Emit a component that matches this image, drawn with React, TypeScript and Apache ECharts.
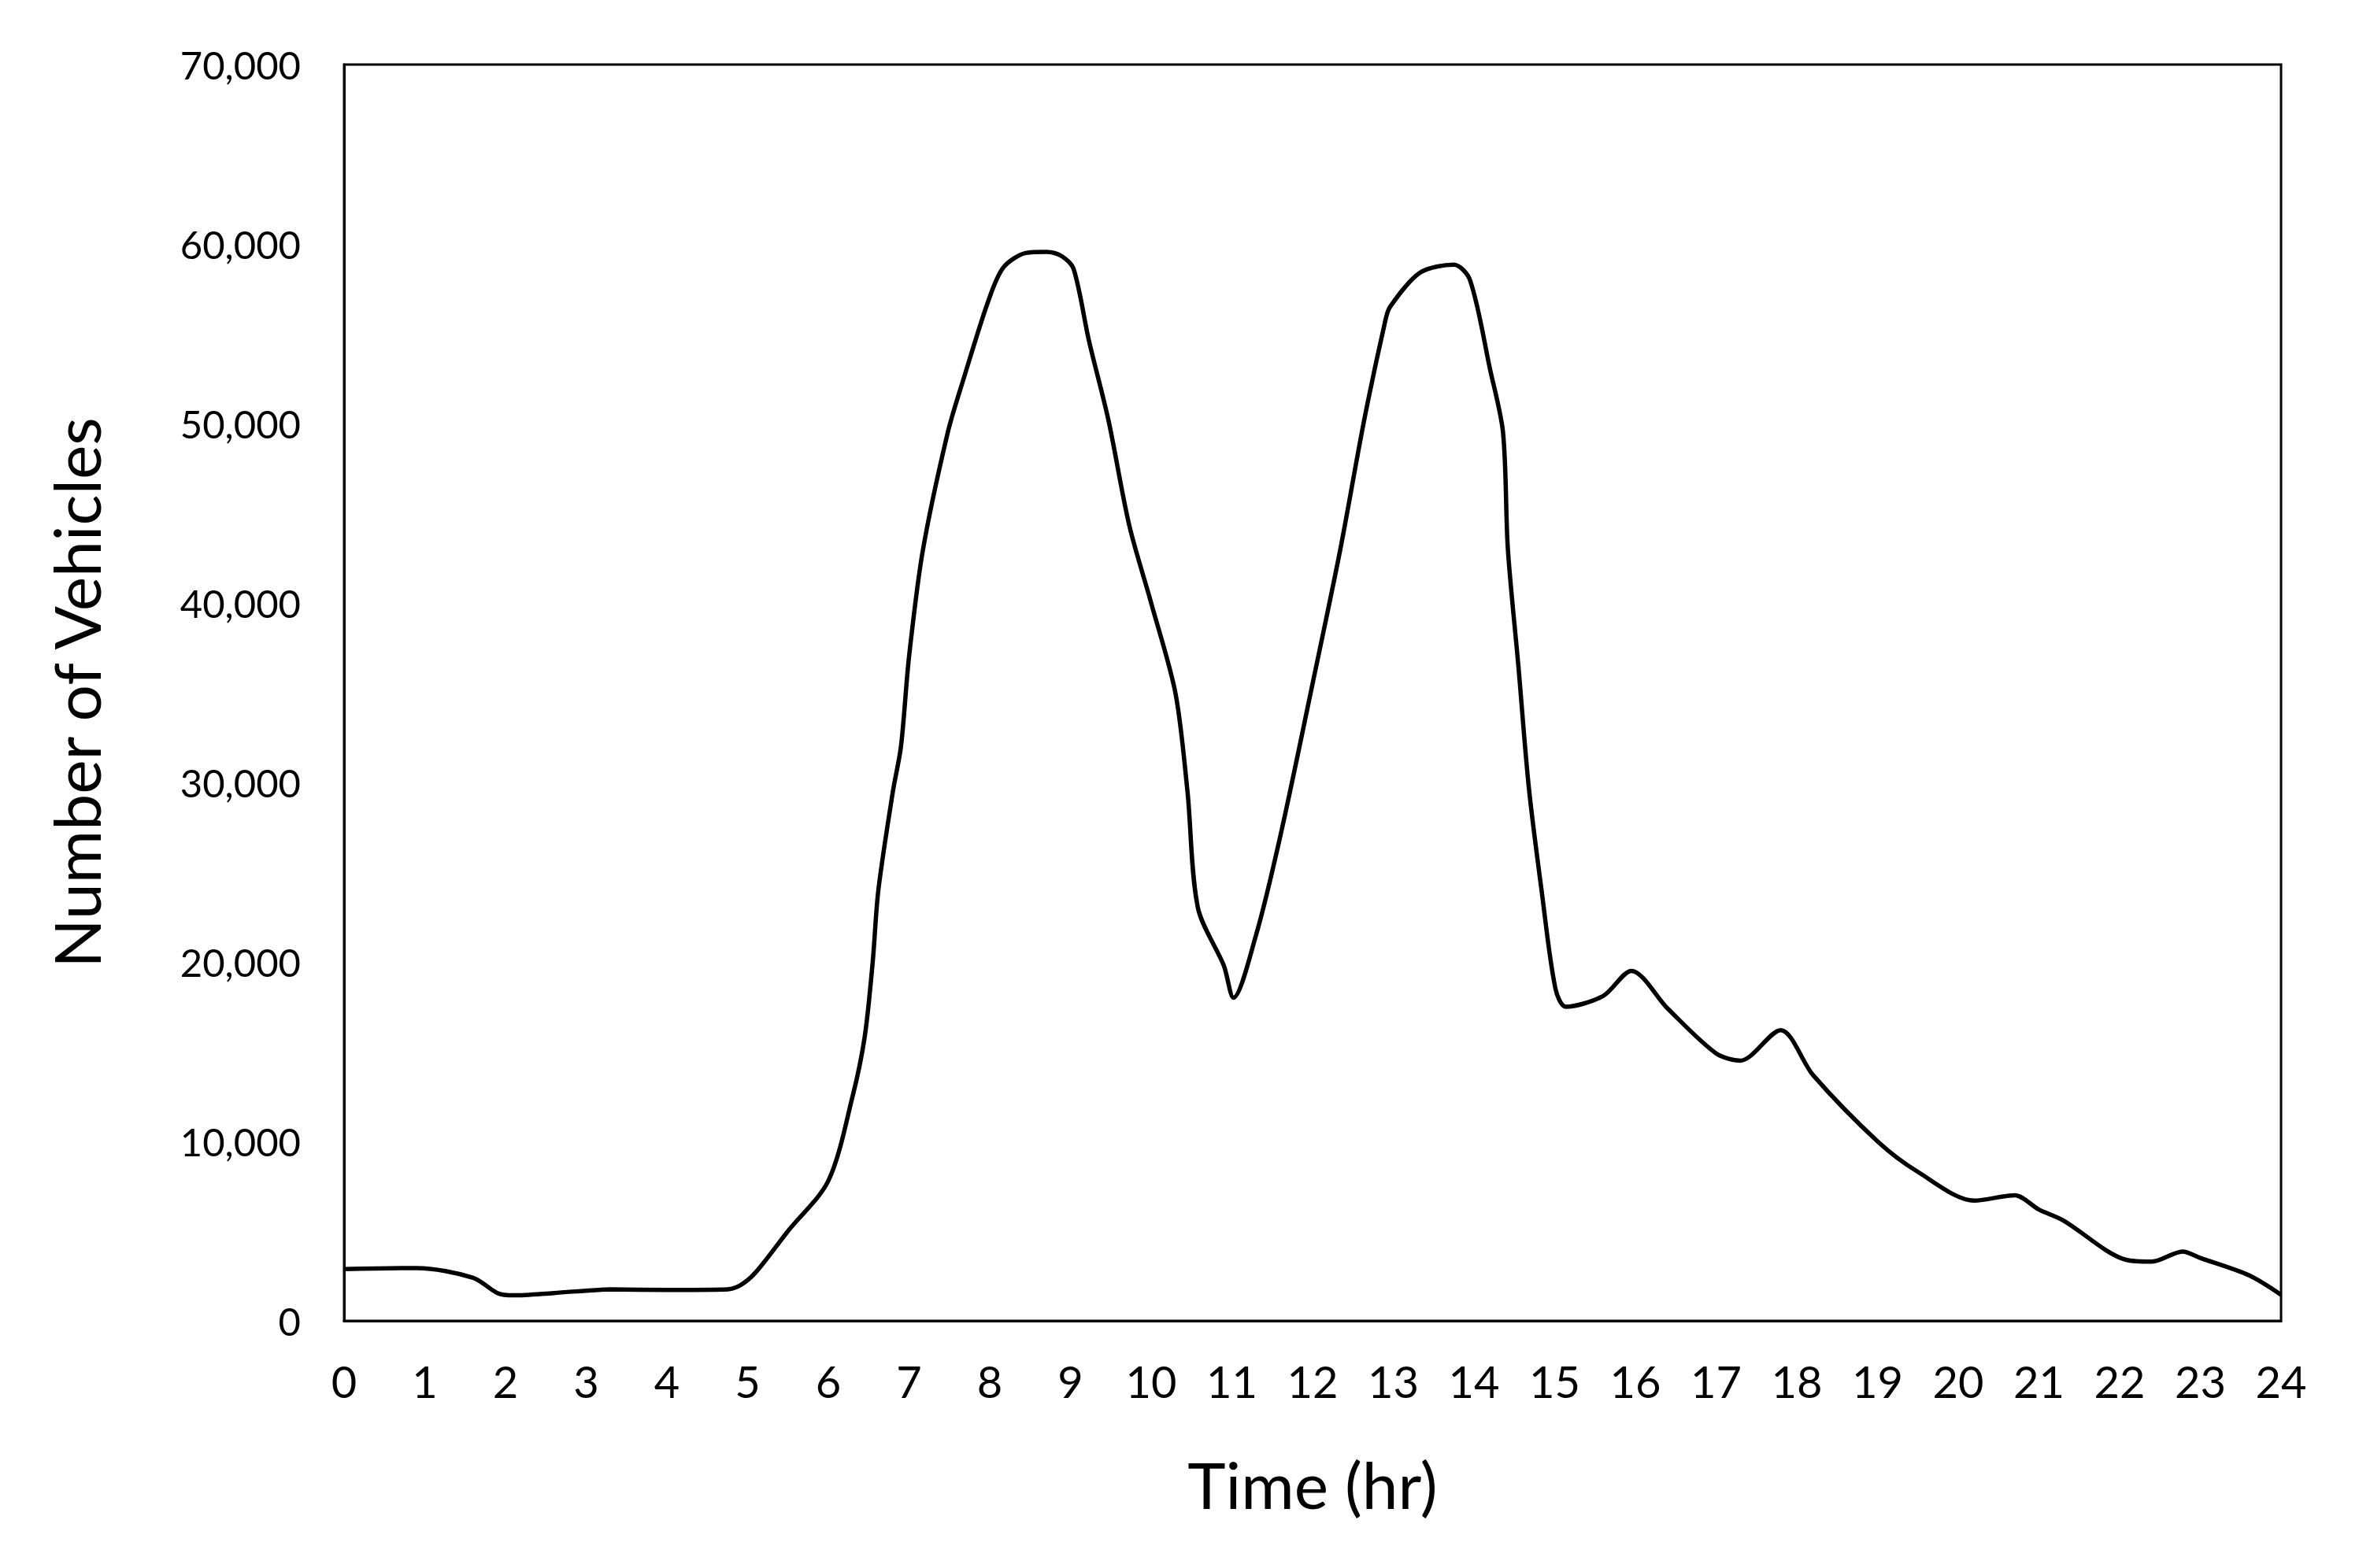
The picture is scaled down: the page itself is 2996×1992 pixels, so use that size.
import React, { useEffect, useRef } from "react";
import * as echarts from "echarts";

const hours = [0, 0.9, 1.6, 1.9, 2.1, 2.6, 3.3, 4.0, 4.7, 4.9, 5.1, 5.5, 6.0, 6.3, 6.45, 6.55, 6.62, 6.8, 6.9, 7.0, 7.17, 7.48, 7.67, 7.98, 8.17, 8.45, 8.7, 8.9, 9.04, 9.23, 9.47, 9.73, 10.0, 10.3, 10.45, 10.58, 10.9, 11.02, 11.3, 11.6, 12.0, 12.34, 12.64, 12.9, 12.96, 13.33, 13.75, 13.95, 14.2, 14.36, 14.42, 14.55, 14.68, 14.84, 15.01, 15.14, 15.6, 15.95, 16.4, 17.0, 17.3, 17.8, 18.2, 19.0, 19.5, 20.2, 20.7, 21.0, 21.3, 22.08, 22.4, 22.78, 23.0, 23.6, 24];
const vehicles = [2880, 2940, 2400, 1550, 1420, 1550, 1750, 1720, 1740, 1960, 2700, 5000, 7800, 12500, 15800, 20000, 24000, 29500, 32000, 37000, 42900, 49500, 52400, 56800, 58700, 59500, 59560, 59300, 58600, 54600, 50200, 44300, 40000, 35000, 29500, 23000, 19800, 18000, 21500, 27000, 35500, 42900, 50200, 55700, 56500, 58400, 58850, 58000, 53000, 49500, 43000, 36500, 29700, 23900, 18500, 17500, 18100, 19500, 17400, 14900, 14500, 16200, 13700, 10000, 8300, 6700, 7000, 6200, 5600, 3400, 3300, 3860, 3500, 2540, 1450];

const xTitle = "Time (hr)";
const yTitle = "Number of Vehicles";

export default function App() {
  const ref = useRef<HTMLDivElement>(null);
  useEffect(() => {
    if (!ref.current) return;
    const chart = echarts.init(ref.current, null, { renderer: "svg" });
    const font = "Lato, 'Open Sans', sans-serif";
    chart.setOption({
      animation: false,
      backgroundColor: "#ffffff",
      grid: {
        left: 437,
        top: 82,
        right: 99,
        bottom: 314,
        show: true,
        borderColor: "#000",
        borderWidth: 3,
        containLabel: false,
      },
      xAxis: {
        type: "value",
        min: 0,
        max: 24,
        interval: 1,
        name: xTitle,
        nameLocation: "middle",
        nameGap: 166,
        nameTextStyle: { fontFamily: font, fontSize: 82, color: "#000" },
        axisLine: { show: true, lineStyle: { color: "#000", width: 3 } },
        axisTick: { show: false },
        splitLine: { show: false },
        axisLabel: { fontFamily: font, fontSize: 56, color: "#000", margin: 48 },
      },
      yAxis: {
        type: "value",
        min: 0,
        max: 70000,
        interval: 10000,
        name: yTitle,
        nameLocation: "middle",
        nameGap: 300,
        nameTextStyle: { fontFamily: font, fontSize: 82, color: "#000" },
        axisLine: { show: true, lineStyle: { color: "#000", width: 3 } },
        axisTick: { show: false },
        splitLine: { show: false },
        axisLabel: {
          fontFamily: font,
          fontSize: 49,
          color: "#000",
          margin: 55,
          formatter: (v: number) => v.toLocaleString("en-US"),
        },
      },
      series: [
        {
          type: "line",
          data: hours.map((h, i) => [h, vehicles[i]]),
          smooth: 0.3,
          showSymbol: false,
          lineStyle: { color: "#000", width: 5.5 },
        },
      ],
    });
    return () => chart.dispose();
  }, []);
  return (
    <div
      ref={ref}
      style={{ position: "fixed", left: 0, top: 0, width: 2996, height: 1992, background: "#fff" }}
    />
  );
}
